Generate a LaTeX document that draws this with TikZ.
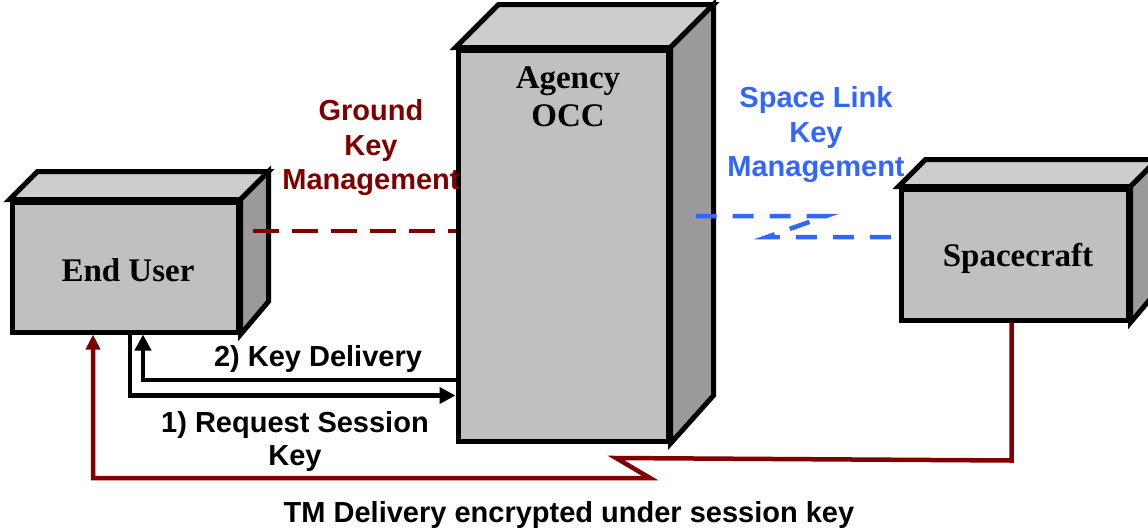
\documentclass[tikz,border=0pt]{standalone}
\usepackage{fontspec}
\setmainfont{Liberation Serif}
\setsansfont{Liberation Sans}
\usetikzlibrary{arrows.meta,calc}
\definecolor{dred}{HTML}{800000}
\definecolor{sblue}{HTML}{3366FF}
\definecolor{frontc}{HTML}{C0C0C0}
\definecolor{topc}{HTML}{CDCDCD}
\definecolor{sidec}{HTML}{9A9A9A}
\tikzset{
  front/.style={draw=black, fill=frontc, line width=5pt, line join=miter, inner sep=0pt,
    font=\fontsize{33}{38}\selectfont\bfseries},
  topface/.style={draw=black, fill=topc, line width=5pt, line join=miter},
  sideface/.style={draw=black, fill=sidec, line width=5pt, line join=miter},
  lbl/.style={font=\sffamily\bfseries\fontsize{29}{33}\selectfont, inner sep=0pt, align=center},
  gkm/.style={dred, line width=4.5pt, dash pattern=on 26pt off 13pt},
  slkm/.style={sblue, line width=4.5pt, dash pattern=on 21pt off 16pt},
  blk/.style={black, line width=4.5pt, -{Triangle[length=16pt,width=16pt]}},
  tmline/.style={dred, line width=4.5pt, -{Triangle[length=15pt,width=14pt]}}
}
\begin{document}
\begin{tikzpicture}[x=1pt,y=-1pt]
\useasboundingbox (0,0) rectangle (1148,531);

% End User
\node[front, minimum width=226pt, minimum height=130pt] (eu) at (125,267) {};
\filldraw[topface] (eu.north west) -- ++(28,-28) -- ($(eu.north east)+(28,-28)$) -- (eu.north east) -- cycle;
\filldraw[sideface] (eu.north east) -- ++(28,-28) -- ++(0,130) -- (eu.south east) -- cycle;
\node[front, minimum width=226pt, minimum height=130pt] (euf) at (125,267) {};
\node[font=\fontsize{33}{38}\selectfont\bfseries, inner sep=0pt] (eulabel) at (128,270) {End User};

% Agency OCC
\node[front, minimum width=210pt, minimum height=391pt] (occ) at (563,245.5) {};
\filldraw[topface] (occ.north west) -- ++(43,-43) -- ($(occ.north east)+(43,-43)$) -- (occ.north east) -- cycle;
\filldraw[sideface] (occ.north east) -- ++(43,-43) -- ++(0,391) -- (occ.south east) -- cycle;
\node[front, minimum width=210pt, minimum height=391pt] (occf) at (563,245.5) {};
\node[font=\fontsize{33}{38}\selectfont\bfseries, inner sep=0pt, align=center] (occlabel) at (568,97) {Agency\\OCC};

% Spacecraft
\node[front, minimum width=227pt, minimum height=131pt] (sc) at (1014.5,254.5) {};
\filldraw[topface] (sc.north west) -- ++(27,-27) -- ($(sc.north east)+(27,-27)$) -- (sc.north east) -- cycle;
\filldraw[sideface] (sc.north east) -- ++(27,-27) -- ++(0,131) -- (sc.south east) -- cycle;
\node[front, minimum width=227pt, minimum height=131pt] (scf) at (1014.5,254.5) {};
\node[font=\fontsize{33}{38}\selectfont\bfseries, inner sep=0pt] (sclabel) at (1018,258) {Spacecraft};

% Ground key management
\coordinate (g1) at ($(eu.east)+(12,-36)$);
\draw[gkm] (g1) -- (g1 -| occ.west);
\node[lbl, dred, align=center, font=\sffamily\bfseries\fontsize{29}{34.5}\selectfont] (gkmlabel) at (371,148) {Ground\\Key\\Management};

% Space link key management
\coordinate (s1) at ($(occ.east)+(25,-29.5)$);
\coordinate (s2) at (826,216);
\coordinate (s3) at (767,237);
\draw[slkm] (s1) -- (s2) -- (s3) -- (s3 -| sc.west);
\node[lbl, sblue, align=center, font=\sffamily\bfseries\fontsize{29}{34.5}\selectfont] (slkmlabel) at (816,135) {Space Link\\Key\\Management};

% Request session key / key delivery
\coordinate (r1) at ($(eu.south)+(5,0)$);
\coordinate (r2) at ($(r1)+(0,61)$);
\draw[blk] (r1) -- (r2) -- (r2 -| occ.west);
\coordinate (k1) at (occ.west |- 0,380);
\coordinate (k2) at (143,380);
\draw[blk] (k1) -- (k2) -- (k2 |- eu.south);
\node[lbl] (kdlabel) at (318,359) {2) Key Delivery};
\node[lbl] (rsklabel) at (295,441) {1) Request Session\\Key};

% TM delivery
\coordinate (t1) at ($(sc.south)+(-3,0)$);
\coordinate (t2) at ($(t1)+(0,138)$);
\coordinate (t3) at (616,458);
\coordinate (t4) at (650,478);
\coordinate (t5) at (93,478);
\draw[tmline, line join=miter] (t1) -- (t2) -- (t3) -- (t4) -- (t5) -- (t5 |- eu.south);
\node[lbl] (tmlabel) at (569,515) {TM Delivery encrypted under session key};
\end{tikzpicture}
\end{document}
